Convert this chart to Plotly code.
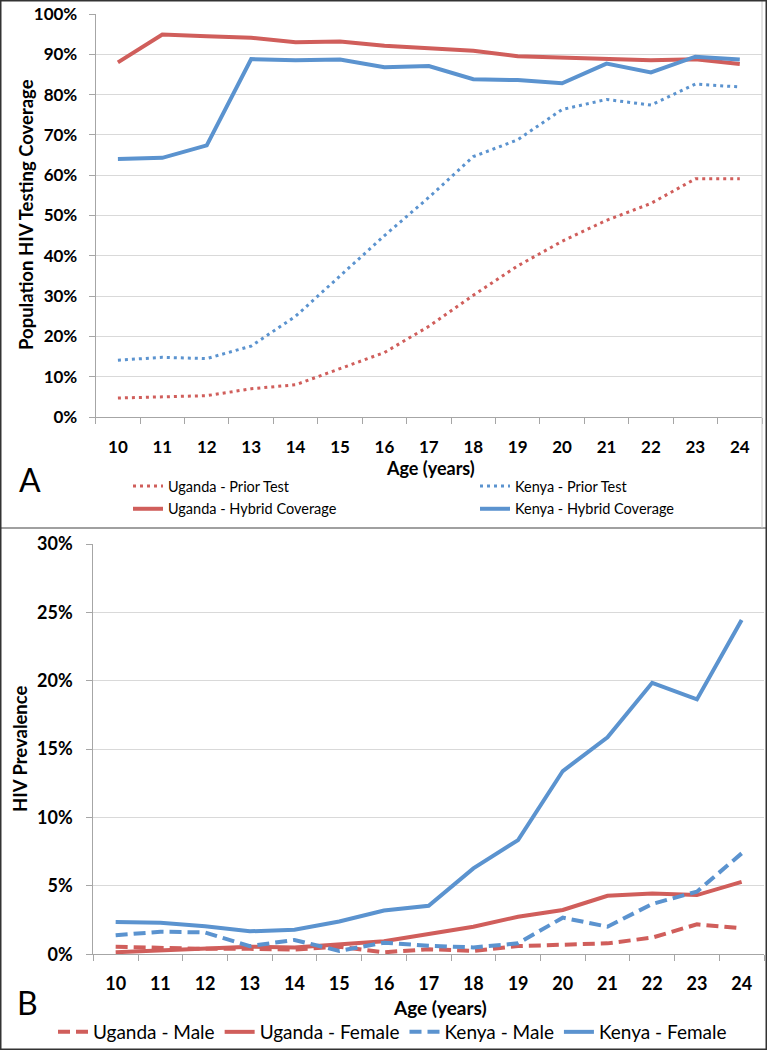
import plotly.graph_objects as go

ages = [10, 11, 12, 13, 14, 15, 16, 17, 18, 19, 20, 21, 22, 23, 24]
age_labels = [str(a) for a in ages]

# Panel A: population HIV testing coverage (%)
uganda_prior = [4.7, 5.0, 5.3, 7.0, 8.0, 12.0, 16.0, 22.5, 30.2, 37.5, 43.6, 48.8, 53.0, 59.1, 59.1]
kenya_prior = [14.1, 14.8, 14.5, 17.6, 25.0, 35.0, 45.0, 54.5, 64.6, 68.8, 76.3, 78.8, 77.4, 82.6, 81.9]
uganda_hybrid = [88.0, 94.9, 94.5, 94.1, 93.0, 93.2, 92.1, 91.6, 90.9, 89.5, 89.2, 89.0, 88.5, 88.8, 87.6]
kenya_hybrid = [64.0, 64.3, 67.4, 88.8, 88.5, 88.7, 86.8, 87.1, 83.8, 83.6, 82.8, 87.7, 85.5, 89.4, 88.7]

# Panel B: HIV prevalence (%)
uganda_male = [0.55, 0.45, 0.40, 0.40, 0.35, 0.55, 0.15, 0.37, 0.25, 0.60, 0.70, 0.80, 1.22, 2.19, 1.90]
uganda_female = [0.15, 0.30, 0.40, 0.55, 0.50, 0.70, 0.95, 1.48, 2.02, 2.75, 3.24, 4.28, 4.45, 4.33, 5.30]
kenya_male = [1.39, 1.65, 1.60, 0.60, 1.05, 0.25, 0.85, 0.63, 0.50, 0.80, 2.68, 2.02, 3.68, 4.58, 7.38]
kenya_female = [2.36, 2.30, 2.05, 1.68, 1.80, 2.40, 3.20, 3.55, 6.28, 8.35, 13.40, 15.86, 19.85, 18.64, 24.44]

RED = "#D05E5B"
BLUE = "#5B93CF"
FONT = "Lato, 'Open Sans', sans-serif"
W, H = 767, 1050

def px(x):
    return x / W

def py(y):
    return 1 - y / H

fig = go.Figure()

# Panel A traces
fig.add_trace(go.Scatter(x=ages, y=uganda_prior, name="Uganda - Prior Test", mode="lines",
                         line=dict(color=RED, width=3, dash="3px,4px"),
                         xaxis="x", yaxis="y", legend="legend", legendgroup="a1"))
fig.add_trace(go.Scatter(x=ages, y=uganda_hybrid, name="Uganda - Hybrid Coverage", mode="lines",
                         line=dict(color=RED, width=4),
                         xaxis="x", yaxis="y", legend="legend", legendgroup="a2"))
fig.add_trace(go.Scatter(x=ages, y=kenya_prior, name="Kenya - Prior Test", mode="lines",
                         line=dict(color=BLUE, width=3, dash="3px,4px"),
                         xaxis="x", yaxis="y", legend="legend2", legendgroup="b1"))
fig.add_trace(go.Scatter(x=ages, y=kenya_hybrid, name="Kenya - Hybrid Coverage", mode="lines",
                         line=dict(color=BLUE, width=4),
                         xaxis="x", yaxis="y", legend="legend2", legendgroup="b2"))

# Panel B traces
fig.add_trace(go.Scatter(x=ages, y=uganda_male, name="Uganda - Male", mode="lines",
                         line=dict(color=RED, width=4, dash="12px,6px"),
                         xaxis="x2", yaxis="y2", legend="legend3"))
fig.add_trace(go.Scatter(x=ages, y=uganda_female, name="Uganda - Female", mode="lines",
                         line=dict(color=RED, width=4),
                         xaxis="x2", yaxis="y2", legend="legend3"))
fig.add_trace(go.Scatter(x=ages, y=kenya_male, name="Kenya - Male", mode="lines",
                         line=dict(color=BLUE, width=4, dash="12px,6px"),
                         xaxis="x2", yaxis="y2", legend="legend3"))
fig.add_trace(go.Scatter(x=ages, y=kenya_female, name="Kenya - Female", mode="lines",
                         line=dict(color=BLUE, width=4),
                         xaxis="x2", yaxis="y2", legend="legend3"))

AXIS_COLOR = "#A6A6A6"
GRID_COLOR = "#D9D9D9"

def xaxis_common(domain, anchor, size, standoff):
    return dict(domain=domain, anchor=anchor, range=[9.5, 24.5], automargin=False,
                tickmode="array", tickvals=ages, ticktext=age_labels,
                ticks="", showgrid=False, zeroline=False,
                showline=True, linecolor=AXIS_COLOR, linewidth=1,
                tickfont=dict(family=FONT, size=size, color="#000", weight="bold"),
                ticklabelstandoff=standoff,
                minor=dict(tickmode="linear", tick0=9.5, dtick=1, ticks="outside",
                           ticklen=6, tickcolor=AXIS_COLOR, tickwidth=1, showgrid=False),
                fixedrange=True)

def yaxis_common(domain, anchor, rng, dtick, size, standoff):
    return dict(domain=domain, anchor=anchor, range=rng, dtick=dtick, tick0=0, automargin=False,
                ticksuffix="%", ticks="outside", ticklen=6, tickcolor=AXIS_COLOR,
                showgrid=True, gridcolor=GRID_COLOR, gridwidth=1, zeroline=False,
                showline=True, linecolor=AXIS_COLOR, linewidth=1,
                tickfont=dict(family=FONT, size=size, color="#000", weight="bold"),
                ticklabelstandoff=standoff, fixedrange=True)

fig.update_layout(
    template="none",
    width=W, height=H, autosize=False,
    margin=dict(l=0, r=0, t=0, b=0, pad=0, autoexpand=False),
    paper_bgcolor="white", plot_bgcolor="white",
    font=dict(family=FONT, color="#000"),
    xaxis=xaxis_common([px(95.7), px(762)], "y", 17, 15),
    yaxis=yaxis_common([py(417), py(14)], "x", [0, 100], 10, 17, 8),
    xaxis2=xaxis_common([px(93.3), px(764)], "y2", 18, 13),
    yaxis2=yaxis_common([py(954.3), py(544)], "x2", [0, 30], 5, 18, 10),
    legend=dict(x=px(128), y=py(470), xanchor="left", yanchor="top",
                orientation="v", tracegroupgap=1, bgcolor="rgba(0,0,0,0)",
                font=dict(family=FONT, size=14.5, color="#000")),
    legend2=dict(x=px(475), y=py(470), xanchor="left", yanchor="top",
                 orientation="v", tracegroupgap=1, bgcolor="rgba(0,0,0,0)",
                 font=dict(family=FONT, size=14.5, color="#000")),
    legend3=dict(x=px(53), y=py(1013), xanchor="left", yanchor="top",
                 orientation="h", bgcolor="rgba(0,0,0,0)",
                 font=dict(family=FONT, size=19, color="#000")),
    showlegend=True,
)

annotations = [
    dict(text="Population HIV Testing Coverage", x=px(26), y=py(215), textangle=-90,
         font=dict(family=FONT, size=18.5, weight="bold")),
    dict(text="Age (years)", x=px(430), y=py(468),
         font=dict(family=FONT, size=18, weight="bold")),
    dict(text="A", x=px(30), y=py(479), font=dict(family=FONT, size=32)),
    dict(text="HIV Prevalence", x=px(20), y=py(749), textangle=-90,
         font=dict(family=FONT, size=18.5, weight="bold")),
    dict(text="Age (years)", x=px(440), y=py(1007),
         font=dict(family=FONT, size=19, weight="bold")),
    dict(text="B", x=px(28), y=py(1002), font=dict(family=FONT, size=32)),
]
for a in annotations:
    a.update(xref="paper", yref="paper", showarrow=False, xanchor="center", yanchor="middle")
fig.update_layout(annotations=annotations)

fig.update_layout(shapes=[
    dict(type="line", xref="paper", yref="paper", x0=0, x1=1, y0=py(528), y1=py(528),
         line=dict(color="#A0A0A0", width=2)),
    dict(type="line", xref="paper", yref="paper", x0=px(762), x1=px(762), y0=py(528), y1=1,
         line=dict(color="#C8C8C8", width=1)),
    dict(type="rect", xref="paper", yref="paper", x0=0, x1=1, y0=0, y1=1,
         line=dict(color="#333333", width=3)),
])

fig.write_html("out.html", config={"displayModeBar": False},
               post_script="document.body.style.margin='0';document.body.style.overflow='hidden';")
